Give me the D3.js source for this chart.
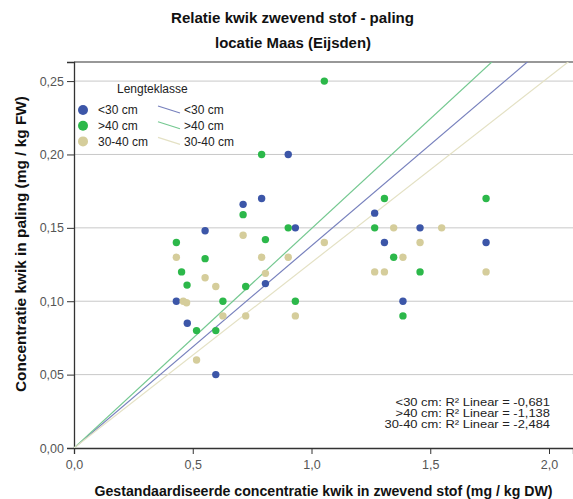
<!DOCTYPE html>
<html>
<head>
<meta charset="utf-8">
<script src="https://cdn.jsdelivr.net/npm/d3@7"></script>
<style>
  html, body { margin: 0; padding: 0; background: #fff; }
  svg { display: block; font-family: "Liberation Sans", Arial, sans-serif; }
</style>
</head>
<body>
<svg id="chart" width="573" height="499"></svg>
<script>
// Length classes (legend order)
const groups = ["<30 cm", ">40 cm", "30-40 cm"];
const colors = ["#3c56a8", "#2cb84a", "#d5cd9b"];
const lineColors = ["#7780bd", "#74c890", "#e4e1c4"];

// Suspended-matter mercury (x) vs eel mercury (y), per length class
const small = [
  [0.431, 0.100], [0.552, 0.148], [0.477, 0.085], [0.597, 0.050],
  [0.902, 0.200], [0.712, 0.166], [0.790, 0.170], [0.932, 0.150],
  [0.806, 0.112], [1.266, 0.160], [1.457, 0.150], [1.307, 0.140],
  [1.735, 0.140], [1.385, 0.100]
];
const large = [
  [0.431, 0.140], [0.453, 0.120], [0.476, 0.111], [0.552, 0.129],
  [0.627, 0.100], [0.516, 0.080], [0.597, 0.080], [1.054, 0.250],
  [0.790, 0.200], [0.712, 0.159], [0.902, 0.150], [0.806, 0.142],
  [0.723, 0.110], [0.932, 0.100], [1.307, 0.170], [1.735, 0.170],
  [1.266, 0.150], [1.346, 0.130], [1.457, 0.120], [1.385, 0.090]
];
const medium = [
  [0.431, 0.130], [0.552, 0.116], [0.597, 0.110], [0.460, 0.100],
  [0.474, 0.099], [0.627, 0.090], [0.516, 0.060], [0.712, 0.145],
  [0.790, 0.130], [0.902, 0.130], [1.054, 0.140], [0.806, 0.119],
  [0.723, 0.090], [0.932, 0.090], [1.346, 0.150], [1.548, 0.150],
  [1.457, 0.140], [1.385, 0.130], [1.266, 0.120], [1.307, 0.120],
  [1.735, 0.120]
];
const series = [small, large, medium];

// Linear fits through the origin (slope per length class) and their R²
const slopes = [0.1378, 0.1495, 0.1264];
const r2Labels = ["-0,681", "-1,138", "-2,484"];

const xTicks = [0, 0.5, 1.0, 1.5, 2.0];
const yTicks = [0, 0.05, 0.10, 0.15, 0.20, 0.25];

const svg = d3.select("#chart");
const plotLeft = 74, plotRight = 573, plotTop = 62, plotBottom = 448;

const x = d3.scaleLinear().domain([0, 2.101]).range([plotLeft, plotRight]);
const y = d3.scaleLinear().domain([0, 0.263]).range([plotBottom, plotTop]);

const nl = d3.formatLocale({ decimal: ",", thousands: ".", grouping: [3], currency: ["€", ""] });
const fx = nl.format(".1f"), fy = nl.format(".2f");

// Titles
svg.append("text").attr("x", 292.5).attr("y", 23).attr("text-anchor", "middle")
  .attr("font-size", 14.5).attr("font-weight", "bold").attr("fill", "#111")
  .attr("textLength", 243).attr("lengthAdjust", "spacingAndGlyphs")
  .text("Relatie kwik zwevend stof - paling");
svg.append("text").attr("x", 293).attr("y", 48).attr("text-anchor", "middle")
  .attr("font-size", 14.5).attr("font-weight", "bold").attr("fill", "#111")
  .attr("textLength", 156).attr("lengthAdjust", "spacingAndGlyphs")
  .text("locatie Maas (Eijsden)");

// Horizontal gridlines
svg.append("g").selectAll("line").data(yTicks.filter(d => d > 0)).join("line")
  .attr("x1", plotLeft).attr("x2", plotRight)
  .attr("y1", d => y(d)).attr("y2", d => y(d))
  .attr("stroke", "#c8c8c8").attr("stroke-width", 1);

// Top frame line
svg.append("line").attr("x1", plotLeft).attr("x2", plotRight).attr("y1", plotTop).attr("y2", plotTop)
  .attr("stroke", "#333").attr("stroke-width", 1.2);

// Axes
const xAxis = svg.append("g").attr("transform", `translate(0,${plotBottom})`)
  .call(d3.axisBottom(x).tickValues(xTicks).tickFormat(fx).tickSize(6).tickPadding(6));
const yAxis = svg.append("g").attr("transform", `translate(${plotLeft},0)`)
  .call(d3.axisLeft(y).tickValues(yTicks).tickFormat(fy).tickSize(7).tickPadding(3));
[xAxis, yAxis].forEach(a => {
  a.select(".domain").attr("stroke", "#333").attr("stroke-width", 1.3);
  a.selectAll(".tick line").attr("stroke", "#333");
  a.selectAll(".tick text").attr("fill", "#555").attr("font-size", 12.5)
    .attr("font-family", "Liberation Sans, Arial, sans-serif");
});

// Axis titles
svg.append("text").attr("x", 323.5).attr("y", 496).attr("text-anchor", "middle")
  .attr("font-size", 14).attr("font-weight", "bold").attr("fill", "#111")
  .attr("textLength", 458).attr("lengthAdjust", "spacingAndGlyphs")
  .text("Gestandaardiseerde concentratie kwik in zwevend stof (mg / kg DW)");
svg.append("text").attr("transform", "translate(26,244) rotate(-90)").attr("text-anchor", "middle")
  .attr("font-size", 14).attr("font-weight", "bold").attr("fill", "#111")
  .attr("textLength", 296).attr("lengthAdjust", "spacingAndGlyphs")
  .text("Concentratie kwik in paling (mg / kg FW)");

// Plot-area clip
svg.append("clipPath").attr("id", "plotclip").append("rect")
  .attr("x", plotLeft).attr("y", plotTop).attr("width", plotRight - plotLeft).attr("height", plotBottom - plotTop);
const plot = svg.append("g").attr("clip-path", "url(#plotclip)");

// Fit lines
const xMax = x.domain()[1];
plot.selectAll("line.fit").data(slopes).join("line").attr("class", "fit")
  .attr("x1", x(0)).attr("y1", y(0))
  .attr("x2", x(xMax)).attr("y2", d => y(d * xMax))
  .attr("stroke", (d, i) => lineColors[i]).attr("stroke-width", 1.2);

// Points
series.forEach((pts, i) => {
  plot.append("g").selectAll("circle").data(pts).join("circle")
    .attr("cx", d => x(d[0])).attr("cy", d => y(d[1])).attr("r", 3.7)
    .attr("fill", colors[i]);
});

// Legend
const lg = svg.append("g");
lg.append("text").attr("x", 117).attr("y", 93).attr("font-size", 12).attr("fill", "#222")
  .text("Lengteklasse");
groups.forEach((g, i) => {
  const cy = 110 + i * 15.7;
  lg.append("circle").attr("cx", 83).attr("cy", cy).attr("r", 5).attr("fill", colors[i]);
  lg.append("text").attr("x", 98).attr("y", cy + 4.3).attr("font-size", 12).attr("fill", "#222").text(g);
  lg.append("line").attr("x1", 158).attr("y1", cy - 4).attr("x2", 180).attr("y2", cy + 3)
    .attr("stroke", lineColors[i]).attr("stroke-width", 1.2);
  lg.append("text").attr("x", 184).attr("y", cy + 4.3).attr("font-size", 12).attr("fill", "#222").text(g);
});

// R² annotations (widened, compact line spacing)
groups.forEach((g, i) => {
  svg.append("text")
    .attr("transform", `translate(550,${405.5 + i * 11.3}) scale(1.22,1)`)
    .attr("text-anchor", "end")
    .attr("font-size", 10.6).attr("fill", "#222")
    .text(`${g}: R² Linear = ${r2Labels[i]}`);
});
</script>
</body>
</html>
